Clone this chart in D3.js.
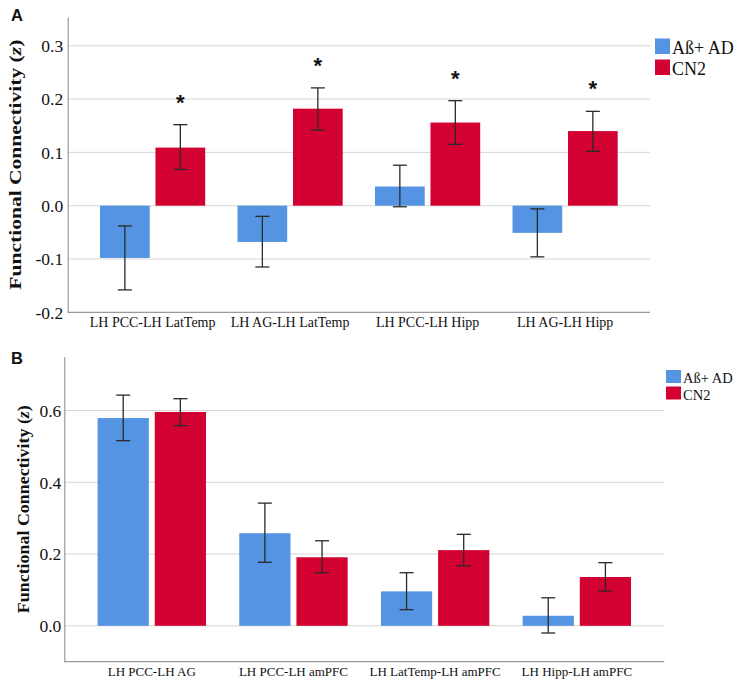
<!DOCTYPE html>
<html>
<head>
<meta charset="utf-8">
<script src="https://cdn.jsdelivr.net/npm/d3@7"></script>
<style>
  html, body { margin: 0; padding: 0; background: #fff; }
  svg { display: block; }
</style>
</head>
<body>
<svg id="chart" width="750" height="690"></svg>
<script>
// ---------- DATA ----------
const seriesNames = ["Aß+ AD", "CN2"];

// Panel A
const categoriesA = ["LH PCC-LH LatTemp", "LH AG-LH LatTemp", "LH PCC-LH Hipp", "LH AG-LH Hipp"];
const adMeanA = [-0.098, -0.068, 0.036, -0.051];
const adLowA  = [-0.158, -0.115, -0.002, -0.096];
const adHighA = [-0.038, -0.020, 0.076, -0.006];
const cnMeanA = [0.109, 0.182, 0.156, 0.140];
const cnLowA  = [0.068, 0.142, 0.115, 0.102];
const cnHighA = [0.152, 0.221, 0.197, 0.177];
const sigA = [true, true, true, true];
const ticksA = [-0.2, -0.1, 0.0, 0.1, 0.2, 0.3];

// Panel B
const categoriesB = ["LH PCC-LH AG", "LH PCC-LH amPFC", "LH LatTemp-LH amPFC", "LH Hipp-LH amPFC"];
const adMeanB = [0.579, 0.258, 0.096, 0.028];
const adLowB  = [0.516, 0.177, 0.045, -0.020];
const adHighB = [0.643, 0.342, 0.148, 0.078];
const cnMeanB = [0.596, 0.191, 0.211, 0.136];
const cnLowB  = [0.558, 0.148, 0.167, 0.097];
const cnHighB = [0.633, 0.237, 0.255, 0.176];
const sigB = [false, false, false, false];
const ticksB = [0.0, 0.2, 0.4, 0.6];

// ---------- STYLE ----------
const colors = { "Aß+ AD": "#5594e3", "CN2": "#d30032" };
const serif = "'Liberation Serif', 'Times New Roman', serif";
const sans = "'Liberation Sans', Arial, sans-serif";

const svg = d3.select("#chart");
const fmt = d3.format(".1f");

function buildRows(cats, adM, adL, adH, cnM, cnL, cnH) {
  return cats.map((c, i) => ({
    cat: c,
    vals: [
      { s: seriesNames[0], m: adM[i], lo: adL[i], hi: adH[i] },
      { s: seriesNames[1], m: cnM[i], lo: cnL[i], hi: cnH[i] }
    ]
  }));
}

function drawPanel(cfg) {
  const g = svg.append("g");
  const y = d3.scaleLinear().domain(cfg.yDomain).range([cfg.bottom, cfg.top]);
  const x0 = d3.scaleBand().domain(cfg.categories).range([cfg.left, cfg.right]).padding(0.235);
  const x1 = d3.scaleBand().domain(seriesNames).range([0, x0.bandwidth()]).paddingInner(0.104).paddingOuter(0);

  // gridlines
  g.append("g").selectAll("line").data(cfg.ticks.filter(t => t > cfg.yDomain[0])).join("line")
    .attr("x1", cfg.left).attr("x2", cfg.right)
    .attr("y1", d => y(d)).attr("y2", d => y(d))
    .attr("stroke", "#d6d6d6").attr("stroke-width", 1);

  // y axis
  const yAxis = d3.axisLeft(y).tickValues(cfg.ticks)
    .tickFormat(d => fmt(d).replace("\u2212", "-"))
    .tickSize(0).tickPadding(cfg.tickPad);
  const ya = g.append("g").attr("transform", `translate(${cfg.left},0)`).call(yAxis)
    .attr("font-family", null).attr("font-size", null);
  ya.select(".domain").attr("stroke", "#9a9a9a").attr("stroke-width", 1.2);
  ya.selectAll("text")
    .style("font-family", serif).style("font-size", cfg.tickFont + "px")
    .attr("fill", "#111").attr("dy", "0.33em");

  // x axis (bottom line + labels)
  const xAxis = d3.axisBottom(x0).tickSize(0).tickPadding(cfg.xPad);
  const xa = g.append("g").attr("transform", `translate(0,${cfg.bottom})`).call(xAxis)
    .attr("font-family", null).attr("font-size", null);
  xa.select(".domain").attr("stroke", "#9a9a9a").attr("stroke-width", 1.2)
    .attr("d", `M${cfg.left},0H${cfg.right}`);
  xa.selectAll("text")
    .style("font-family", serif).style("font-size", cfg.xFont + "px").attr("fill", "#111");

  const rows = buildRows(cfg.categories, ...cfg.data);

  const grp = g.append("g").selectAll("g").data(rows).join("g")
    .attr("transform", d => `translate(${x0(d.cat)},0)`);

  grp.selectAll("rect").data(d => d.vals).join("rect")
    .attr("x", d => x1(d.s))
    .attr("width", x1.bandwidth())
    .attr("y", d => y(Math.max(0, d.m)))
    .attr("height", d => Math.abs(y(d.m) - y(0)))
    .attr("fill", d => colors[d.s]);

  const cap = cfg.cap;
  const eb = grp.selectAll("g.eb").data(d => d.vals).join("g").attr("class", "eb")
    .attr("stroke", "#2a2a2a").attr("stroke-width", 1.3);
  eb.append("line")
    .attr("x1", d => x1(d.s) + x1.bandwidth() / 2).attr("x2", d => x1(d.s) + x1.bandwidth() / 2)
    .attr("y1", d => y(d.lo)).attr("y2", d => y(d.hi));
  eb.append("line")
    .attr("x1", d => x1(d.s) + x1.bandwidth() / 2 - cap / 2).attr("x2", d => x1(d.s) + x1.bandwidth() / 2 + cap / 2)
    .attr("y1", d => y(d.lo)).attr("y2", d => y(d.lo));
  eb.append("line")
    .attr("x1", d => x1(d.s) + x1.bandwidth() / 2 - cap / 2).attr("x2", d => x1(d.s) + x1.bandwidth() / 2 + cap / 2)
    .attr("y1", d => y(d.hi)).attr("y2", d => y(d.hi));

  // significance stars above CN2 error bars
  grp.filter((d, i) => cfg.sig[i]).append("text")
    .attr("x", d => x1(seriesNames[1]) + x1.bandwidth() / 2)
    .attr("y", d => y(d.vals[1].hi) - 15)
    .attr("text-anchor", "middle")
    .style("font-family", sans).attr("font-weight", "bold").style("font-size", "22px")
    .attr("fill", "#111")
    .text("*");

  // y title
  const cy = (cfg.top + cfg.bottom) / 2;
  g.append("text")
    .attr("transform", `translate(${cfg.titleX},${cy}) rotate(-90)`)
    .attr("text-anchor", "middle")
    .style("font-family", serif).attr("font-weight", "bold").style("font-size", cfg.titleFont + "px")
    .attr("textLength", cfg.titleLen).attr("lengthAdjust", "spacingAndGlyphs")
    .attr("fill", "#111")
    .html('Functional Connectivity (<tspan font-style="italic">z</tspan>)');

  // panel letter
  g.append("text").attr("x", 11).attr("y", cfg.letterY)
    .style("font-family", sans).attr("font-weight", "bold").style("font-size", "16.5px")
    .attr("fill", "#111").text(cfg.letter);

  // legend
  const lg = g.append("g");
  seriesNames.forEach((s, i) => {
    lg.append("rect").attr("x", cfg.legX).attr("y", cfg.legY + i * cfg.legStep)
      .attr("width", 15).attr("height", cfg.legH).attr("fill", colors[s]);
    lg.append("text").attr("x", cfg.legX + 17).attr("y", cfg.legY + i * cfg.legStep + cfg.legH)
      .style("font-family", serif).style("font-size", cfg.legFont + "px").attr("fill", "#111").text(s);
  });
}

drawPanel({
  letter: "A", letterY: 21,
  categories: categoriesA,
  data: [adMeanA, adLowA, adHighA, cnMeanA, cnLowA, cnHighA],
  sig: sigA, ticks: ticksA,
  yDomain: [-0.2, 0.354],
  left: 67.7, right: 650, top: 17, bottom: 312.3,
  tickFont: 17.5, tickPad: 4.5, xFont: 14, xPad: 5,
  cap: 14, titleX: 21, titleFont: 16, titleLen: 250,
  legX: 655, legY: 38.5, legStep: 21, legH: 15.5, legFont: 18
});

drawPanel({
  letter: "B", letterY: 363.5,
  categories: categoriesB,
  data: [adMeanB, adLowB, adHighB, cnMeanB, cnLowB, cnHighB],
  sig: sigB, ticks: ticksB,
  yDomain: [-0.1, 0.75],
  left: 64.3, right: 664.3, top: 356.7, bottom: 661.7,
  tickFont: 17.5, tickPad: 3, xFont: 13, xPad: 5,
  cap: 14, titleX: 29, titleFont: 16, titleLen: 208,
  legX: 666, legY: 370, legStep: 16.5, legH: 13, legFont: 14.5
});
</script>
</body>
</html>
